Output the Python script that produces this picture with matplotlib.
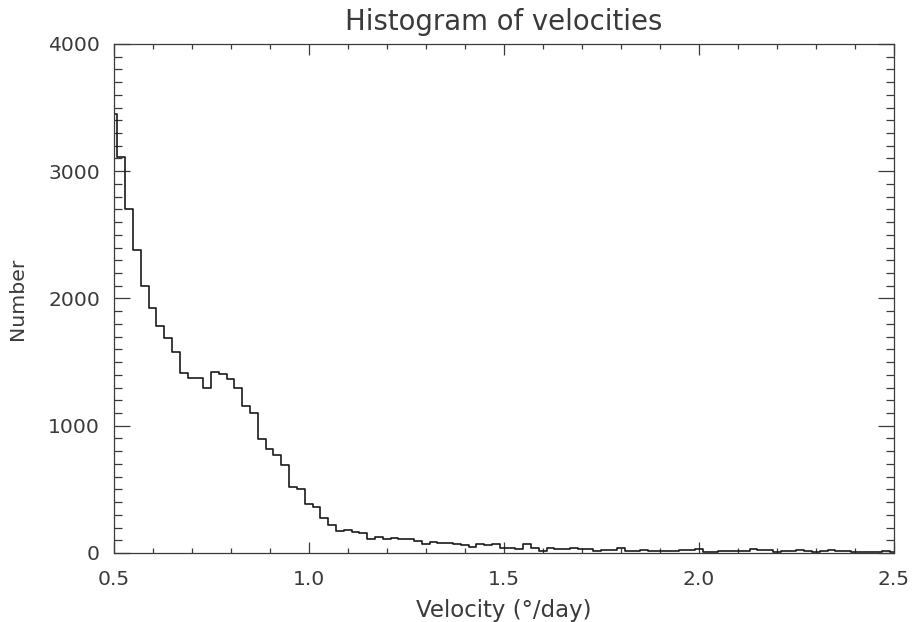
import numpy as np
import matplotlib
matplotlib.use("Agg")
import matplotlib.pyplot as plt
from matplotlib.ticker import MultipleLocator

# histogram counts, bin centres 0.50, 0.52, ... 2.50 (step 0.02)
bin_start = 0.5
bin_width = 0.02
counts = [
    3448, 3115, 2703, 2381, 2098, 1928, 1781, 1687, 1582, 1414,
    1375, 1375, 1300, 1420, 1405, 1370, 1300, 1155, 1100, 893,
    818, 766, 694, 516, 506, 382, 364, 272, 220, 176,
    181, 165, 155, 113, 123, 108, 121, 110, 108, 97,
    73, 89, 76, 76, 73, 60, 45, 68, 60, 68,
    37, 37, 29, 71, 42, 18, 39, 34, 34, 42,
    29, 29, 18, 23, 26, 37, 16, 16, 26, 18,
    16, 16, 16, 23, 23, 29, 10, 5, 16, 16,
    18, 18, 34, 23, 23, 10, 13, 13, 21, 13,
    10, 16, 21, 16, 16, 8, 8, 8, 8, 16,
    8,
]
x_ticks = [0.5, 1.0, 1.5, 2.0, 2.5]
x_tick_labels = ["0.5", "1.0", "1.5", "2.0", "2.5"]
y_ticks = [0, 1000, 2000, 3000, 4000]
y_tick_labels = ["0", "1000", "2000", "3000", "4000"]

centres = bin_start + bin_width * np.arange(len(counts))

ink = "#3a3a3a"
plt.rcParams["font.family"] = ["DejaVu Sans"]

fig = plt.figure(figsize=(9.14, 6.22), dpi=100)
ax = fig.add_axes([0.1242, 0.111, 0.978 - 0.1242, 0.9293 - 0.111])

ax.step(centres, counts, where="mid", color="#1a1a1a", lw=1.2)

ax.set_xlim(0.5, 2.5)
ax.set_ylim(0, 4000)
ax.set_xticks(x_ticks)
ax.set_xticklabels(x_tick_labels)
ax.set_yticks(y_ticks)
ax.set_yticklabels(y_tick_labels)
ax.xaxis.set_minor_locator(MultipleLocator(0.1))
ax.yaxis.set_minor_locator(MultipleLocator(100))

ax.tick_params(axis="both", which="both", direction="in", top=True, right=True,
               colors=ink, labelsize=14.6, width=0.9)
ax.tick_params(axis="x", which="major", length=7.7, pad=12.5)
ax.tick_params(axis="x", which="minor", length=3.6)
ax.tick_params(axis="y", which="major", length=11.5, pad=9.7)
ax.tick_params(axis="y", which="minor", length=6.0)

for side in ax.spines.values():
    side.set_color(ink)
    side.set_linewidth(0.9)

ax.set_title("Histogram of velocities", fontsize=19.8, color=ink, pad=10)
ax.set_xlabel("Velocity (°/day)", fontsize=16.5, color=ink, labelpad=7)
ax.set_ylabel("Number", fontsize=14.7, color=ink, labelpad=15)

fig.savefig("out.png", dpi=100)
